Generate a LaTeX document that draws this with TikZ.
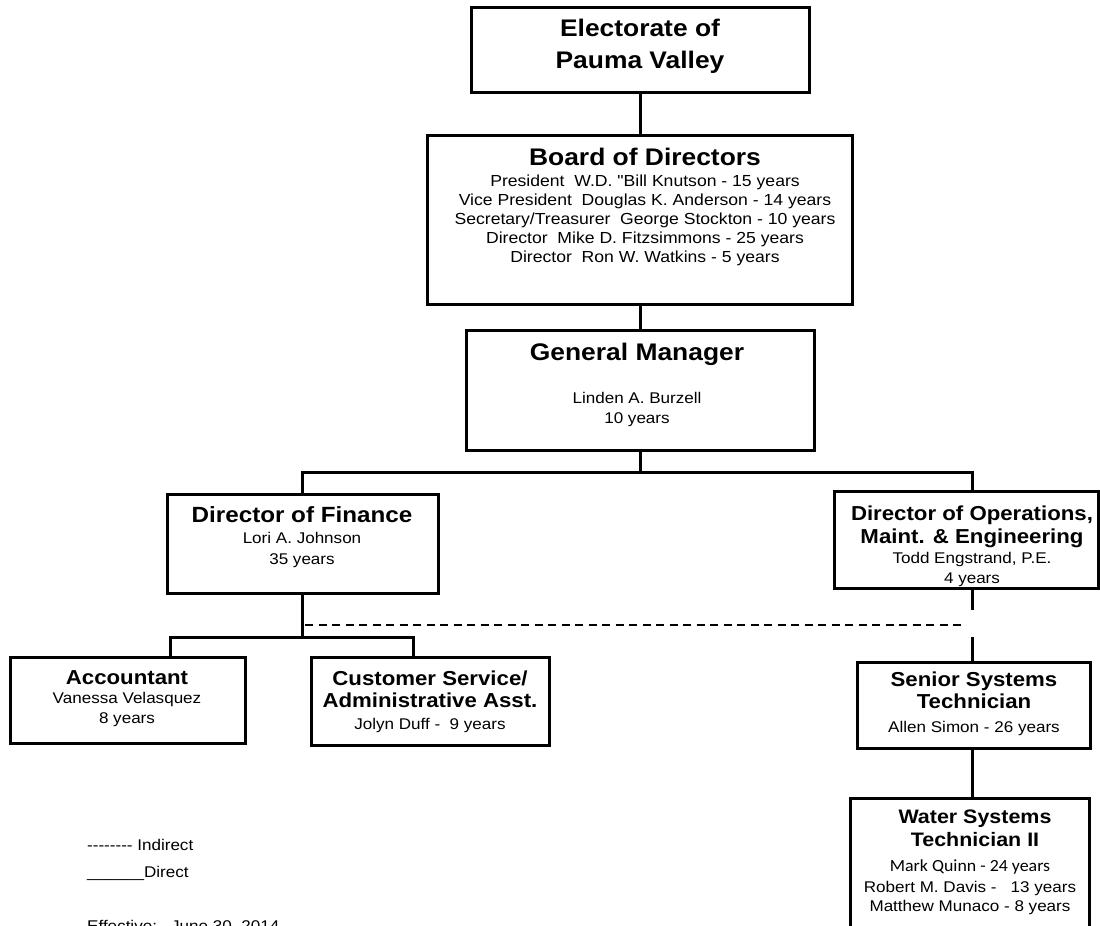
\documentclass[tikz,border=0pt]{standalone}
\usepackage{fontspec}
\newfontfamily\arial{Liberation Sans}[FakeStretch=1.1]
\newfontfamily\calib{Carlito}[FakeStretch=1.05]
\begin{document}
\begin{tikzpicture}[x=1pt,y=-1pt,
  box/.style={draw, line width=3pt, inner sep=0pt},
  conn/.style={line width=3pt},
  indirect/.style={line width=2.4pt, dash pattern=on 8pt off 5.5pt},
  bigt/.style={anchor=base, inner sep=0pt, font=\arial\bfseries\fontsize{24}{28}\selectfont},
  midt/.style={anchor=base, inner sep=0pt, font=\arial\bfseries\fontsize{22}{26}\selectfont},
  lowt/.style={anchor=base, inner sep=0pt, font=\arial\bfseries\fontsize{20.2}{24}\selectfont},
  body/.style={anchor=base, inner sep=0pt, font=\arial\fontsize{16}{19}\selectfont},
  small/.style={anchor=base, inner sep=0pt, font=\arial\fontsize{15.5}{19}\selectfont},
  legend/.style={anchor=base west, inner sep=0pt, font=\arial\fontsize{15.5}{19}\selectfont},
]
\fill[white] (0,0) rectangle (1100,926);
\useasboundingbox (0,0) rectangle (1100,926);
\clip (0,0) rectangle (1100,926);

% boxes
\node[box, minimum width=338pt, minimum height=85pt]  (elect) at (640,49.5) {};
\node[box, minimum width=425pt, minimum height=169pt] (board) at (640,219.5) {};
\node[box, minimum width=348pt, minimum height=120pt] (gm)    at (640,390) {};
\node[box, minimum width=271pt, minimum height=99pt]  (dof)   at (302.5,543.5) {};
\node[box, minimum width=264pt, minimum height=97pt]  (dops)  at (966,539.5) {};
\node[box, minimum width=235pt, minimum height=86pt]  (acc)   at (127.5,700) {};
\node[box, minimum width=238pt, minimum height=88pt]  (cs)    at (430,701) {};
\node[box, minimum width=233pt, minimum height=86pt]  (sen)   at (973.5,705) {};
\node[box, minimum width=239pt, minimum height=162pt] (water) at (969.5,879) {};

% texts
\node[bigt] (e1) at (640,36) {Electorate of};
\node[bigt] (e2) at (640,68) {Pauma Valley};

\node[bigt] (b0) at (645,165) {Board of Directors};
\node[body] (b1) at (645,186) {President\ \ W.D. "Bill Knutson - 15 years};
\node[body] (b2) at (645,205) {Vice President\ \ Douglas K. Anderson - 14 years};
\node[body] (b3) at (645,224) {Secretary/Treasurer\ \ George Stockton - 10 years};
\node[body] (b4) at (645,243) {Director\ \ Mike D. Fitzsimmons - 25 years};
\node[body] (b5) at (645,262) {Director\ \ Ron W. Watkins - 5 years};

\node[bigt]  (g0) at (637,360) {General Manager};
\node[small] (g1) at (637,403) {Linden A. Burzell};
\node[small] (g2) at (637,423) {10 years};

\node[midt]  (f0) at (302,522) {Director of Finance};
\node[small] (f1) at (302,543) {Lori A. Johnson};
\node[small] (f2) at (302,564) {35 years};

\node[lowt]  (o0) at (972,520) {Director of Operations,};
\node[lowt]  (o1) at (972,543) {Maint. \& Engineering};
\node[small] (o2) at (972,563) {Todd Engstrand, P.E.};
\node[small] (o3) at (972,583) {4 years};

\node[lowt]  (a0) at (127,684) {Accountant};
\node[small] (a1) at (127,703) {Vanessa Velasquez};
\node[small] (a2) at (127,723) {8 years};

\node[lowt]  (c0) at (430,685) {Customer Service/};
\node[lowt]  (c1) at (430,707) {Administrative Asst.};
\node[small] (c2) at (430,729) {Jolyn Duff -\ \ 9 years};

\node[lowt]  (s0) at (974,686) {Senior Systems};
\node[lowt]  (s1) at (974,708) {Technician};
\node[small] (s2) at (974,732) {Allen Simon - 26 years};

\node[lowt, font=\arial\bfseries\fontsize{19.5}{23}\selectfont]  (w0) at (975,823) {Water Systems};
\node[lowt, font=\arial\bfseries\fontsize{19.5}{23}\selectfont]  (w1) at (975,846) {Technician II};
\node[anchor=base, inner sep=0pt, font=\calib\fontsize{17}{20}\selectfont] (w2) at (970,871) {Mark Quinn - 24 years};
\node[small] (w3) at (970,892) {Robert M. Davis -\ \ \ 13 years};
\node[small] (w4) at (970,911) {Matthew Munaco - 8 years};

% legend
\node[legend] (l1) at (87,850) {--------\ Indirect};
\node[legend] (l2) at (87,877) {\_\_\_\_\_\_Direct};
\node[legend] (l3) at (87,931) {Effective:\ \ \ June 30, 2014};

% connectors
\coordinate (hL) at (302,472);
\coordinate (hR) at (972,472);
\coordinate (fL) at (170,637);
\coordinate (fR) at (413,637);
\coordinate (dL) at (305,625);
\coordinate (dR) at (963,625);
\coordinate (oA) at (972,610);
\coordinate (oB) at (972,637);

\draw[conn] (elect.south) -- (board.north);
\draw[conn] (board.south) -- (gm.north);
\draw[conn] (gm.south) -- (gm.south |- hL);
\draw[conn] (hL |- dof.north) -- (hL) -- (hR) -- (hR |- dops.north);
\draw[conn] (dof.south) -- (dof.south |- fL);
\draw[conn] (fL |- acc.north) -- (fL) -- (fR) -- (fR |- cs.north);
\draw[indirect] (dL) -- (dR);
\draw[conn] (oA |- dops.south) -- (oA);
\draw[conn] (oB) -- (oB |- sen.north);
\draw[conn] (oB |- sen.south) -- (oB |- water.north);
\end{tikzpicture}
\end{document}
